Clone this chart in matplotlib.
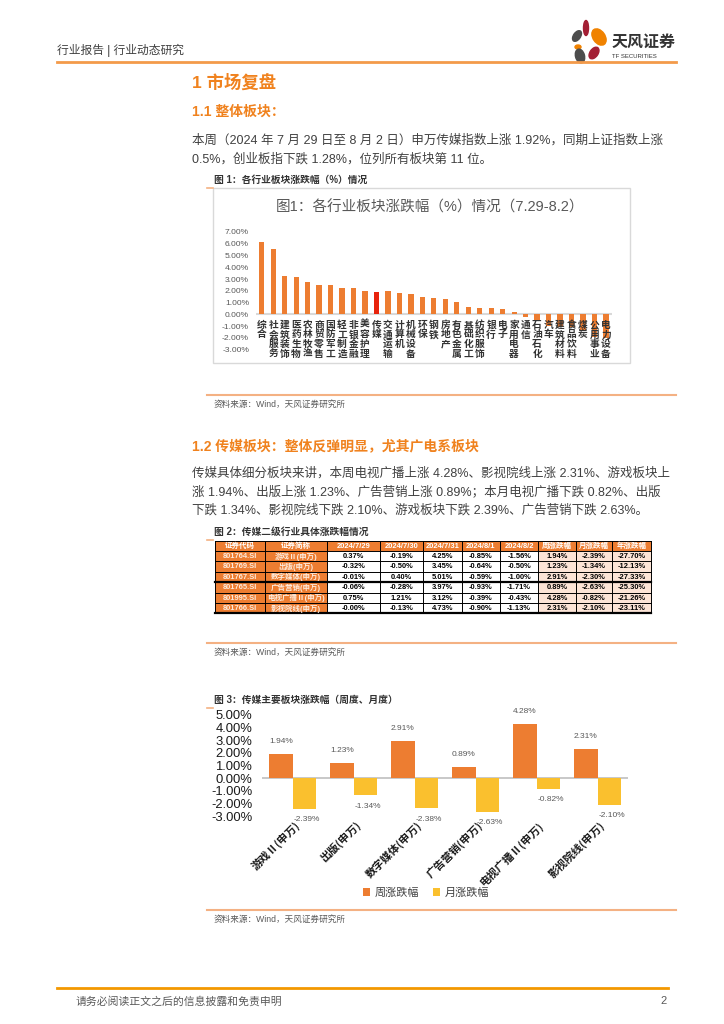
import matplotlib.pyplot as plt
from matplotlib.patches import Rectangle, Ellipse
from matplotlib.transforms import ScaledTranslation
import numpy as np

plt.rcParams['font.family'] = ['Liberation Sans', 'Noto Sans CJK SC']

# =============================================================================
# Data
# =============================================================================

industries = ['综合', '社会服务', '建筑装饰', '医药生物', '农林牧渔', '商贸零售', '国防军工',
              '轻工制造', '非银金融', '美容护理', '传媒', '交通运输', '计算机', '机械设备',
              '环保', '钢铁', '房地产', '有色金属', '基础化工', '纺织服饰', '银行', '电子',
              '家用电器', '通信', '石油石化', '汽车', '建筑材料', '食品饮料', '煤炭',
              '公用事业', '电力设备']
industry_chg = [6.17, 5.57, 3.29, 3.20, 2.74, 2.46, 2.46, 2.20, 2.20, 1.97, 1.92, 1.97, 1.80,
                1.71, 1.51, 1.43, 1.34, 1.03, 0.63, 0.57, 0.57, 0.49, 0.23, -0.22, -0.45,
                -1.00, -1.10, -1.10, -1.30, -1.90, -2.00]
highlight = '传媒'
ticks1 = [-3, -2, -1, 0, 1, 2, 3, 4, 5, 6, 7]

table_header = ['证券代码', '证券简称', '2024/7/29', '2024/7/30', '2024/7/31', '2024/8/1',
                '2024/8/2', '周涨跌幅', '月涨跌幅', '年涨跌幅']
codes = ['801764.SI', '801769.SI', '801767.SI', '801765.SI', '801995.SI', '801766.SI']
short_names = ['游戏Ⅱ(申万)', '出版(申万)', '数字媒体(申万)', '广告营销(申万)',
               '电视广播Ⅱ(申万)', '影视院线(申万)']
daily = [
    ['0.37%', '-0.19%', '4.25%', '-0.85%', '-1.56%'],
    ['-0.32%', '-0.50%', '3.45%', '-0.64%', '-0.50%'],
    ['-0.01%', '0.40%', '5.01%', '-0.59%', '-1.00%'],
    ['-0.06%', '-0.28%', '3.97%', '-0.93%', '-1.71%'],
    ['0.75%', '1.21%', '3.12%', '-0.39%', '-0.43%'],
    ['-0.00%', '-0.13%', '4.73%', '-0.90%', '-1.13%'],
]
week_txt = ['1.94%', '1.23%', '2.91%', '0.89%', '4.28%', '2.31%']
month_txt = ['-2.39%', '-1.34%', '-2.30%', '-2.63%', '-0.82%', '-2.10%']
year_txt = ['-27.70%', '-12.13%', '-27.33%', '-25.30%', '-21.26%', '-23.11%']

weekly = [1.94, 1.23, 2.91, 0.89, 4.28, 2.31]
monthly = [-2.39, -1.34, -2.38, -2.63, -0.82, -2.10]
ticks3 = [-3, -2, -1, 0, 1, 2, 3, 4, 5]

para1 = ['本周（2024 年 7 月 29 日至 8 月 2 日）申万传媒指数上涨 1.92%，同期上证指数上涨',
         '0.5%，创业板指下跌 1.28%，位列所有板块第 11 位。']
para2 = ['传媒具体细分板块来讲，本周电视广播上涨 4.28%、影视院线上涨 2.31%、游戏板块上',
         '涨 1.94%、出版上涨 1.23%、广告营销上涨 0.89%；本月电视广播下跌 0.82%、出版',
         '下跌 1.34%、影视院线下跌 2.10%、游戏板块下跌 2.39%、广告营销下跌 2.63%。']

# =============================================================================
# Page
# =============================================================================

ORANGE = '#ED7D31'
HEAD = '#F0821E'
YELLOW = '#FAC02E'
PEACH = '#FCE4D6'
LINE = '#F4B183'
TXT = '#404040'
GREY = '#595959'

W, H = 724, 1024
fig = plt.figure(figsize=(W / 100, H / 100), dpi=100)
page = fig.add_axes([0, 0, 1, 1])
page.set_xlim(0, W)
page.set_ylim(H, 0)
page.axis('off')


def px_axes(x0, y0, x1, y1):
    ax = fig.add_axes([x0 / W, 1 - y1 / H, (x1 - x0) / W, (y1 - y0) / H])
    ax.set_facecolor('none')
    return ax


# header
page.text(57, 50, '行业报告 | 行业动态研究', fontsize=8.5, color=TXT, va='center')
page.plot([57, 676], [62, 62], color='#F39A4A', lw=2)
for (cx, cy, w, h, ang, col) in [(586, 28, 5, 15, 0, '#A31F34'),
                                 (577, 36, 7, 12, 35, '#4D4D4D'),
                                 (599, 37, 12, 18, -35, '#F08200'),
                                 (578, 47, 6, 4, 0, '#F08200'),
                                 (580, 56, 9, 14, -15, '#4D4D4D'),
                                 (594, 53, 8, 13, 35, '#A31F34')]:
    page.add_patch(Ellipse((cx, cy), w, h, angle=ang, color=col))
page.text(612, 42, '天风证券', fontsize=11.5, fontweight='bold', color='#333333', va='center')
page.text(612, 56, 'TF SECURITIES', fontsize=4.3, color='#333333', va='center')

# section headings and text
page.text(192, 82, '1 市场复盘', fontsize=12.5, fontweight='bold', color=HEAD, va='center')
page.text(192, 112, '1.1 整体板块：', fontsize=10, fontweight='bold', color=HEAD, va='center')
for i, line in enumerate(para1):
    page.text(192, 140 + i * 19, line, fontsize=9, color=TXT, va='center')
page.text(192, 446, '1.2 传媒板块：整体反弹明显，尤其广电系板块', fontsize=10,
          fontweight='bold', color=HEAD, va='center')
for i, line in enumerate(para2):
    page.text(192, 473 + i * 18.5, line, fontsize=9, color=TXT, va='center')

# captions, separators, sources
for y, cap in [(180, '图 1：各行业板块涨跌幅（%）情况'),
               (532, '图 2：传媒二级行业具体涨跌幅情况'),
               (700, '图 3：传媒主要板块涨跌幅（周度、月度）')]:
    page.text(214, y, cap, fontsize=7, fontweight='bold', color='#333333', va='center')
    page.plot([207, 213], [y + 8, y + 8], color=LINE, lw=1.2)
for y in [395, 643, 910]:
    page.plot([207, 676], [y, y], color=LINE, lw=1.5)
    page.text(214, y + 9, '资料来源：Wind，天风证券研究所', fontsize=6.2, color=GREY, va='center')

# footer
page.plot([57, 668], [988, 988], color='#F39800', lw=2)
page.text(76, 1001, '请务必阅读正文之后的信息披露和免责申明', fontsize=7.8, color=GREY, va='center')
page.text(660, 1001, '2', fontsize=8, color=GREY, va='center')

# =============================================================================
# Figure 1: industry bars
# =============================================================================

page.add_patch(Rectangle((213, 188), 417, 175, facecolor='white', edgecolor='#D9D9D9', lw=1))
page.text(430, 207, '图1：各行业板块涨跌幅（%）情况（7.29-8.2）', fontsize=10.5, color=GREY,
          ha='center', va='center')

ax1 = px_axes(256, 232, 611.7, 349.6)
x1 = np.arange(len(industries))
colors1 = ['#E8230C' if n == highlight else ORANGE for n in industries]
ax1.bar(x1, industry_chg, width=0.46, color=colors1, zorder=2)
ax1.axhline(0, color='#D9D9D9', lw=1.5, zorder=1)
ax1.set_xlim(-0.5, len(industries) - 0.5)
ax1.set_ylim(-3, 7)
ax1.set_yticks(ticks1)
ax1.set_yticklabels([f'{t:.2f}%' for t in ticks1], fontsize=6.1, color=GREY)
ax1.set_xticks([])
ax1.tick_params(axis='y', length=0, pad=5)
for s in ax1.spines.values():
    s.set_visible(False)
for i, name in enumerate(industries):
    ax1.annotate('\n'.join(name), (i, 0), xytext=(0, -4), textcoords='offset points',
                 ha='center', va='top', fontsize=7, fontweight='bold', color='#333333',
                 linespacing=0.95, family=['Noto Sans CJK SC'], zorder=3)

# =============================================================================
# Figure 2: table
# =============================================================================

col_edges = [214.7, 264.7, 326.7, 380, 422.7, 461.7, 500, 538.3, 576, 612, 651]
row_top, row_h = 540.7, 10.37
rows = [table_header] + [[codes[r], short_names[r]] + daily[r] +
                         [week_txt[r], month_txt[r], year_txt[r]] for r in range(len(codes))]
for r, row in enumerate(rows):
    y0 = row_top + r * row_h
    for c, val in enumerate(row):
        xa, xb = col_edges[c], col_edges[c + 1]
        if r == 0 or c < 2:
            fc, tc = ORANGE, ('white' if r == 0 else '#FDEBDD')
        elif c >= 7:
            fc, tc = PEACH, 'black'
        else:
            fc, tc = 'white', 'black'
        page.add_patch(Rectangle((xa, y0), xb - xa, row_h, facecolor=fc, edgecolor='none'))
        page.text((xa + xb) / 2, y0 + row_h / 2 + 0.3, val, fontsize=5.4, color=tc,
                  ha='center', va='center', fontweight='bold')
table_bottom = row_top + len(rows) * row_h
for r in range(len(rows) + 1):
    y = row_top + r * row_h
    lw = 1.6 if r in (4, len(rows)) else 0.7
    page.plot([col_edges[0], col_edges[-1]], [y, y], color='black', lw=lw)
for x in col_edges:
    page.plot([x, x], [row_top, table_bottom], color='black', lw=0.7)

# =============================================================================
# Figure 3: weekly / monthly bars
# =============================================================================

ax3 = px_axes(262, 714.7, 628, 816.3)
x3 = np.arange(len(short_names))
bw = 0.382
b_w = ax3.bar(x3 - bw / 2, weekly, width=bw, color=ORANGE, label='周涨跌幅', zorder=2)
b_m = ax3.bar(x3 + bw / 2, monthly, width=bw, color=YELLOW, label='月涨跌幅', zorder=2)
ax3.axhline(0, color='#BFBFBF', lw=1.2, zorder=1)
ax3.set_xlim(-0.5, len(short_names) - 0.5)
ax3.set_ylim(-3, 5)
ax3.set_yticks(ticks3)
ax3.set_yticklabels([f'{t:.2f}%' for t in ticks3], fontsize=9.4, color='#1A1A1A')
ax3.tick_params(axis='y', length=0, pad=7)
ax3.set_xticks(x3)
ax3.set_xticklabels(short_names, rotation=45, ha='right', va='center', rotation_mode='anchor',
                    fontsize=7.9, fontweight='bold', color='#1A1A1A',
                    family=['Noto Sans CJK SC'])
ax3.tick_params(axis='x', length=0, pad=5)
for lab in ax3.get_xticklabels():
    lab.set_transform(lab.get_transform() + ScaledTranslation(4 / 72, 0, fig.dpi_scale_trans))
for s in ax3.spines.values():
    s.set_visible(False)
for bar, v in zip(b_w, weekly):
    ax3.annotate(f'{v:.2f}%', (bar.get_x() + bar.get_width() / 2, v), xytext=(0, 9),
                 textcoords='offset points', ha='center', va='center', fontsize=6, color=GREY)
for bar, v in zip(b_m, monthly):
    ax3.annotate(f'{v:.2f}%', (bar.get_x() + bar.get_width() / 2, v), xytext=(2, -8),
                 textcoords='offset points', ha='center', va='center', fontsize=6, color=GREY)
ax3.legend(handles=[b_w, b_m], loc='center', bbox_to_anchor=(426, 893),
           bbox_transform=page.transData, ncol=2, frameon=False, fontsize=8,
           handlelength=0.7, handleheight=0.7, handletextpad=0.4, columnspacing=1.2,
           labelcolor=TXT)

fig.savefig('out.png', dpi=100)
